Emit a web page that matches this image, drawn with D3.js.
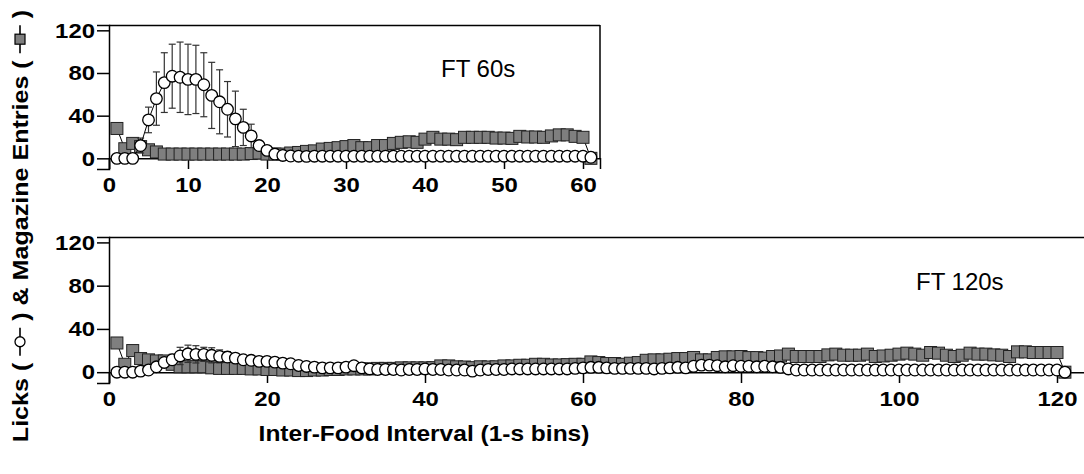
<!DOCTYPE html>
<html>
<head>
<meta charset="utf-8">
<script src="https://cdn.jsdelivr.net/npm/d3@7"></script>
<style>
  body { margin: 0; background: #fff; }
  text { font-family: Arial, "Liberation Sans", sans-serif; }
</style>
</head>
<body>
<svg id="chart" width="1084" height="474"></svg>
<script>
// FT 60s panel, bins 1..61
var licks60 = [0,0,0,12,36,56,71,77,76,74, 74,69,59,53,46,37,29,21,12,7.5,
  4,2.7,2.2,2,1.8,2,2,2,2,2, 2,2,2,2,2,2,2,2,2,2,
  2,2,2,2,2,2,2,2,2,2, 2,2,2,2,2,2,2,2,2,2, 1];
var lickSE60 = [0,0,0,7,12,25,28,30,33,33, 32,30,31,30,26,26,17,11,4,2,
  1,1,0.5,0.5,0.5,0.5,0.5,0.5,0.5,0.5, 0.5,0.5,0.5,0.5,0.5,0.5,0.5,0.5,0.5,0.5,
  0.5,0.5,0.5,0.5,0.5,0.5,0.5,0.5,0.5,0.5, 0.5,0.5,0.5,0.5,0.5,0.5,0.5,0.5,0.5,0.5, 0];
var mags60 = [28,9,14,11,8,6,4,4,4,4, 4,4,4,4,4,4,4,4.5,5,4,
  4,4,5,5.5,6.5,7,8.7,9.3,10,11, 12,10,10,12,12,14,15,15.5,15,18,
  19.7,18,18,17.5,19.7,19.7,19.7,19.7,19,19, 18.7,20.6,20,20,19.7,21,22,22,20.6,19.7, 0];

// FT 120s panel, bins 1..121
var licks120 = [0,0,0,1,2,5,9,11.5,15,17, 16.5,16.5,15.6,14.6,14,13,11.5,11,10,10,
  9.3,8.4,7.8,6.2,5.3,4.7,4,4,4,4.7, 6,4,3,2.5,2.5,2.5,2,2.5,2.5,3,
  2.5,2.5,2,2,2,1,2,2.5,2.5,2.5, 3,3,3,3,3,3,3,3,3.5,4,
  4.5,4.5,4,3.5,3.5,3.5,3.5,3.5,3,3.5, 4,4.5,4,5.5,6.5,6.5,6,5,6,5.5,
  5.5,5,5.5,5,4.5,3,2,2,2,2, 2,2,2,2,2,2,2,2,2,2,
  2,2,2,2,2,2,2,2,2,2, 2,2,2,2,2,2,2,2,2,2, 0];
var lickSE120 = [0,0,0,0.5,1,1.5,2,5,8,8, 8,6.5,7,6,5,4,3,3,2.5,2.5,
  2,2,2,2,1.5,1.5,1.5,1.5,1.5,1.5, 1,1,1,1,1,1,1,1,1,1,
  1,1,1,1,1,1,1,1,1,1, 1,1,1,1,1,1,1,1,1,1,
  1,1,1,1,1,1,1,1,1,1, 1,1,1,1,1,1,1,1,1,1,
  1,1,1,1,1,1,1,1,1,1, 1,1,1,1,1,1,1,1,1,1,
  1,1,1,1,1,1,1,1,1,1, 1,1,1,1,1,1,1,1,1,1, 0];
var mags120 = [27,7.3,20,12.6,11.4,10.4,10.4,7.3,5,5, 5,5,4,3.5,3.5,3.5,3.5,3,3,2.5,
  2.5,2,2,1.5,1.5,2,2,2.5,2.5,3, 3,3,3,3.5,3.5,3.5,4,4,4,4,
  4.2,5.8,5.8,5,4.8,4.2,5,4.8,5,5.8, 5.8,6.4,6.4,7.3,7.3,6.7,6.7,7,7.3,7.3,
  9.5,8.9,8,8,7.3,8.3,8.9,11,11.4,11.4, 12,12.6,12.6,13.6,11.4,11.4,13.6,14.2,14.2,14.5,
  13.5,13.5,13,14.5,15,16.7,14.5,14.5,14.5,14.5, 16,16.7,15.7,15.7,15.7,16.7,14.5,15,15.7,16.7,
  17.6,16.7,15.7,18.2,17.6,15.7,14.5,15.7,17.6,16.7, 16.7,16,15.7,14.5,18.8,18.8,18.2,18.2,18.2,18.2, 0];

var yTicks = [0, 40, 80, 120];
var xTicks60 = [0, 10, 20, 30, 40, 50, 60];
var xTicks120 = [0, 20, 40, 60, 80, 100, 120];

const svg = d3.select("#chart");
const sx = 1.14;          // horizontal stretch of the bold labels
const left = 109, perBin = 7.9;

function panel(o) {
  const g = svg.append("g");
  const x = d3.scaleLinear().domain([0, o.xEnd]).range([left, left + o.xEnd * perBin]);
  const y = d3.scaleLinear().domain([-10, 125]).range([o.bottom, o.top]);

  // frame
  g.append("line").attr("x1", left).attr("x2", o.frameRight)
    .attr("y1", o.top + 0.5).attr("y2", o.top + 0.5)
    .attr("stroke", "#000").attr("stroke-width", 1.5);
  if (o.rightSide) {
    g.append("line").attr("x1", o.frameRight).attr("x2", o.frameRight)
      .attr("y1", o.top).attr("y2", y(0))
      .attr("stroke", "#000").attr("stroke-width", 1.5);
  }

  // axes
  const xa = g.append("g").attr("transform", `translate(0,${y(0)})`)
    .call(d3.axisBottom(x).tickValues(o.xTicks).tickSizeOuter(0)
      .tickSize(y(-10) - y(0)).tickPadding(8));
  xa.selectAll("text").attr("transform", `scale(${sx},1)`);

  const ya = g.append("g").attr("transform", `translate(${left},0)`)
    .call(d3.axisLeft(y).tickValues(yTicks).tickSizeOuter(0).tickSize(12).tickPadding(2));
  ya.selectAll("text").attr("x", -14 / sx).attr("transform", `scale(${sx},1)`);

  [xa, ya].forEach(a => {
    a.selectAll("path,line").attr("stroke", "#000").attr("stroke-width", 1.5);
    a.selectAll("text").attr("fill", "#000").style("font-size", "21px").style("font-weight", "bold");
  });

  const mags = o.mags.map((v, i) => ({ bin: i + 1, v: v }));
  const licks = o.licks.map((v, i) => ({ bin: i + 1, v: v, se: o.se[i] }));
  const line = d3.line().x(d => x(d.bin)).y(d => y(d.v));

  // magazine entries
  g.append("path").datum(mags).attr("d", line)
    .attr("fill", "none").attr("stroke", "#000").attr("stroke-width", 1);
  g.selectAll(".sq").data(mags).join("rect").attr("class", "sq")
    .attr("x", d => x(d.bin) - 6).attr("y", d => y(d.v) - 6)
    .attr("width", 12).attr("height", 12)
    .attr("fill", "#7f7f7f").attr("stroke", "#222").attr("stroke-width", 1);

  // lick error bars
  const eb = g.selectAll(".eb").data(licks.filter(d => d.se > 0)).join("g").attr("class", "eb")
    .attr("stroke", "#333").attr("stroke-width", 1.2);
  eb.append("line").attr("x1", d => x(d.bin)).attr("x2", d => x(d.bin))
    .attr("y1", d => y(d.v + d.se)).attr("y2", d => y(d.v - d.se));
  eb.append("line").attr("x1", d => x(d.bin) - 3.5).attr("x2", d => x(d.bin) + 3.5)
    .attr("y1", d => y(d.v + d.se)).attr("y2", d => y(d.v + d.se));
  eb.append("line").attr("x1", d => x(d.bin) - 3.5).attr("x2", d => x(d.bin) + 3.5)
    .attr("y1", d => y(d.v - d.se)).attr("y2", d => y(d.v - d.se));

  // licks
  g.append("path").datum(licks).attr("d", line)
    .attr("fill", "none").attr("stroke", "#000").attr("stroke-width", 1);
  g.selectAll(".ci").data(licks).join("circle").attr("class", "ci")
    .attr("cx", d => x(d.bin)).attr("cy", d => y(d.v)).attr("r", 5.8)
    .attr("fill", "#fff").attr("stroke", "#000").attr("stroke-width", 1.3);

  g.append("text").attr("x", o.labelX).attr("y", o.labelY)
    .style("font-size", "24px").text(o.label);
}

panel({ xEnd: 62.15, top: 25, bottom: 169, frameRight: 600, rightSide: true,
  xTicks: xTicks60, licks: licks60, se: lickSE60, mags: mags60,
  label: "FT 60s", labelX: 441, labelY: 77 });
panel({ xEnd: 124.6, top: 237, bottom: 383, frameRight: 1084, rightSide: false,
  xTicks: xTicks120, licks: licks120, se: lickSE120, mags: mags120,
  label: "FT 120s", labelX: 916, labelY: 290 });

// x title
svg.append("text").attr("transform", `translate(424,441) scale(${sx},1)`)
  .attr("text-anchor", "middle").style("font-size", "21.5px").style("font-weight", "bold")
  .text("Inter-Food Interval (1-s bins)");

// y title with little legend glyphs
const yt = svg.append("g").attr("transform", "translate(28,0) rotate(-90)")
  .style("font-size", "22px").style("font-weight", "bold");
const parts = [{ t: "Licks ( " }, { g: "circle" }, { t: " ) & Magazine Entries ( " }, { g: "square" }, { t: " )" }];
const glyphW = 28;
parts.forEach(p => {
  if (p.t) {
    p.node = yt.append("text").attr("xml:space", "preserve").style("white-space", "pre").text(p.t);
    p.w = p.node.node().getComputedTextLength() * sx;
  } else p.w = glyphW;
});
const total = d3.sum(parts, p => p.w);
let pos = -226 - total / 2;
parts.forEach(p => {
  if (p.t) {
    p.node.attr("transform", `translate(${pos},0) scale(${sx},1)`);
  } else {
    const mid = pos + glyphW / 2, cy = -8;
    yt.append("line").attr("x1", pos).attr("x2", pos + glyphW)
      .attr("y1", cy).attr("y2", cy).attr("stroke", "#000").attr("stroke-width", 1.6);
    if (p.g === "circle") {
      yt.append("circle").attr("cx", mid).attr("cy", cy).attr("r", 5)
        .attr("fill", "#fff").attr("stroke", "#000").attr("stroke-width", 1.3);
    } else {
      yt.append("rect").attr("x", mid - 5).attr("y", cy - 5).attr("width", 10).attr("height", 10)
        .attr("fill", "#7f7f7f").attr("stroke", "#000").attr("stroke-width", 1.2);
    }
  }
  pos += p.w;
});
</script>
</body>
</html>
